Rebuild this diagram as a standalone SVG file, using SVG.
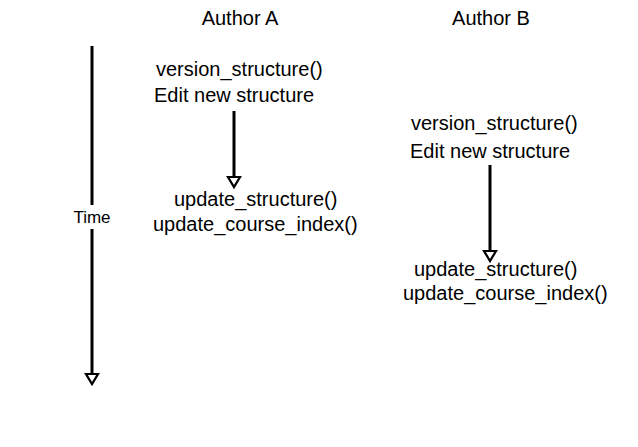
<svg xmlns="http://www.w3.org/2000/svg" width="638" height="447" viewBox="0 0 638 447">
<defs>
<style>
.t{font-family:"Liberation Sans",Arial,sans-serif;font-size:20px;fill:#000}
.h{font-family:"Liberation Sans",Arial,sans-serif;font-size:20px;fill:#000;text-anchor:middle}
.s{font-family:"Liberation Sans",Arial,sans-serif;font-size:17px;fill:#000;text-anchor:middle}
.ln{stroke:#000;stroke-width:3;fill:none}
.hd{fill:#fff;stroke:#000;stroke-width:2.2}
</style>
</defs>
<rect width="638" height="447" fill="#fff"/>
<g id="connectors">
<path d="M92,46 V205" class="ln"/>
<path d="M92,229 V374" class="ln"/>
<path d="M86,374 L98,374 L92,384 Z" class="hd"/>
<path d="M234,111 V177" class="ln"/>
<path d="M228,177 L240,177 L234,187 Z" class="hd"/>
<path d="M490,165 V251" class="ln"/>
<path d="M484,251 L496,251 L490,261 Z" class="hd"/>
</g>
<g id="time-label"><text class="s" x="92" y="223">Time</text></g>
<g id="author-a"><text class="h" x="240" y="25">Author A</text></g>
<g id="author-b"><text class="h" x="491" y="25">Author B</text></g>
<g id="a-version">
<text class="t" x="156" y="76">version_structure()</text>
<text class="t" x="154" y="102">Edit new structure</text>
</g>
<g id="a-update">
<text class="t" x="174" y="206">update_structure()</text>
<text class="t" x="153" y="231">update_course_index()</text>
</g>
<g id="b-version">
<text class="t" x="411" y="130">version_structure()</text>
<text class="t" x="410" y="158">Edit new structure</text>
</g>
<g id="b-update">
<text class="t" x="414" y="276">update_structure()</text>
<text class="t" x="403" y="300">update_course_index()</text>
</g>
</svg>
